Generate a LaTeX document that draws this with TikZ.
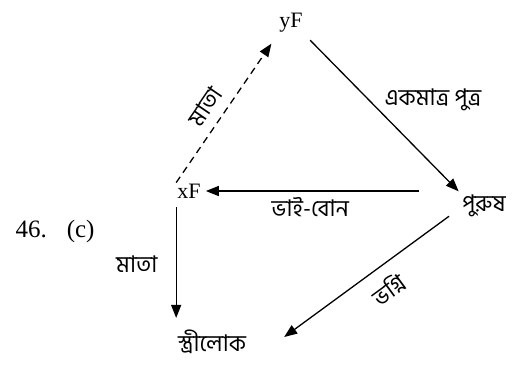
\documentclass[tikz,border=0pt]{standalone}
\usepackage{fontspec}
\setmainfont{Liberation Serif}
\newfontfamily\bn[Script=Bengali]{Hind Siliguri}
\usetikzlibrary{arrows.meta, positioning}

\tikzset{
  bntext/.style={font=\bn\fontsize{23}{26}\selectfont, inner sep=2pt},
  rel/.style={line width=1.3pt, -{Triangle[length=13pt,width=10pt]}},
}

\begin{document}
\begin{tikzpicture}[x=1pt, y=-1pt, font=\fontsize{22}{26}\selectfont]
\useasboundingbox (0,0) rectangle (517,372);
\node[inner sep=1pt] (yf) at (291,23) {yF};
\node[inner sep=1pt] (xf) at (189,191) {xF};
\node[bntext] (purush) at (484,206) {পুরুষ};
\node[bntext] (stri) at (212,342) {স্ত্রীলোক};
\node[font=\fontsize{25}{28}\selectfont] (qno) at (55,231) {46.\hspace{20pt}(c)};

\draw[rel, dash pattern=on 7pt off 5pt, shorten >=12pt] (xf.north west) -- (yf.south west)
  node[bntext, pos=0.44, sloped, above=8pt] (matadash) {মাতা}; % dashed
\draw[rel, shorten <=9pt, shorten >=2pt] (yf.south east) -- (purush.north west)
  node[bntext, pos=0.5, anchor=south west] (ekmatra) {একমাত্র পুত্র};
\draw[rel, shorten <=41pt, shorten >=4pt] (purush.west |- xf.east) -- (xf.east)
  node[bntext, pos=0.58, below=4pt] (bhaibon) {ভাই-বোন};
\draw[rel, shorten <=8pt, shorten >=10pt] (xf.south west) -- (xf.south west |- stri.north)
  node[bntext, midway, left=16pt] (mata) {মাতা};
\draw[rel] ([shift={(-11,-3)}]purush.south west) -- ([shift={(36,-5)}]stri.east)
  node[bntext, pos=0.45, sloped, below=10pt] (bhogni) {ভগ্নি};
\end{tikzpicture}
\end{document}
